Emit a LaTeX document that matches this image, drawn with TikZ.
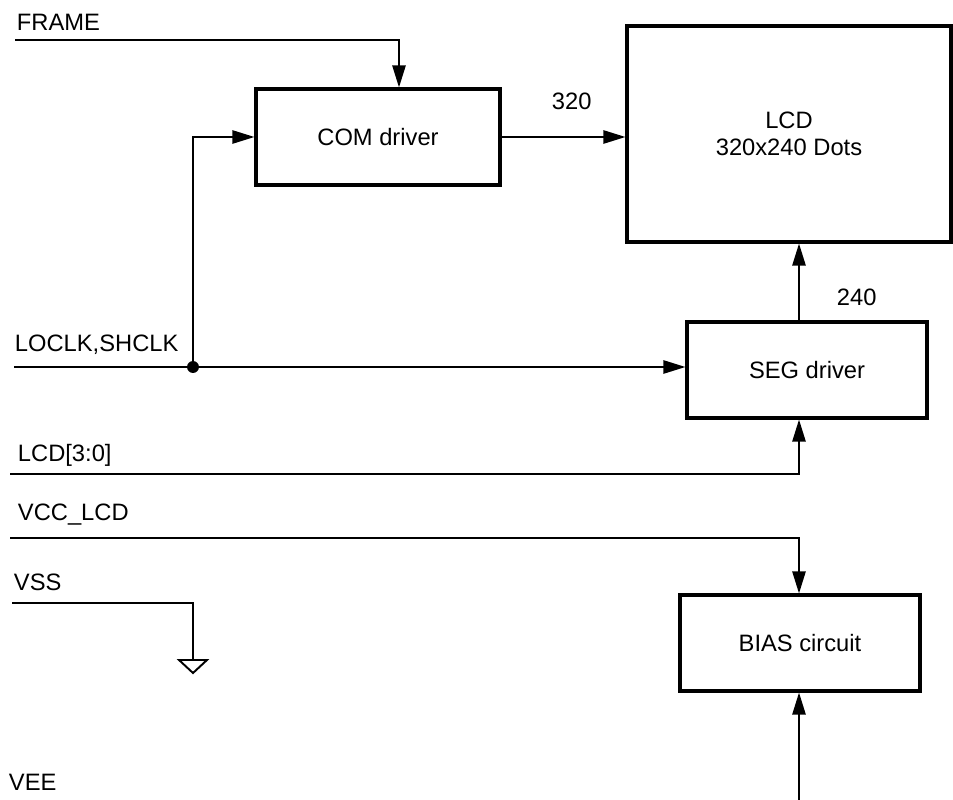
\documentclass[tikz,border=0pt]{standalone}
\usepackage{fontspec}
\setmainfont{Liberation Sans}
\usetikzlibrary{arrows.meta, positioning}

\begin{document}
\begin{tikzpicture}[
    x=0.02cm, y=-0.02cm,
    >={Triangle[length=12.5pt, width=7.5pt]},
    line width=1.1pt,
    font=\fontsize{13.5}{15}\selectfont,
    blockbox/.style={draw, line width=1.8pt, align=center, inner sep=0pt,
                     minimum width=4.8cm, minimum height=1.92cm},
    siglabel/.style={anchor=base west, inner sep=0pt}
  ]
  \useasboundingbox (0,0) rectangle (953,800);

  % Blocks
  \node[blockbox, minimum width=4.88cm] (com) at (378,137) {COM driver};
  \node[blockbox, minimum width=6.48cm, minimum height=4.32cm] (lcd) at (789,134)
    {LCD\\320x240 Dots};
  \node[blockbox] (seg) at (807,370) {SEG driver};
  \node[blockbox] (bias) at (800,643) {BIAS circuit};

  % Signal names
  \node[siglabel] (frameLbl) at (16,31) {FRAME};
  \node[siglabel] (clkLbl) at (14,352) {LOCLK,SHCLK};
  \node[siglabel] (lcdLbl) at (17,461) {LCD[3:0]};
  \node[siglabel] (vccLbl) at (17,520) {VCC\_LCD};
  \node[siglabel] (vssLbl) at (13,590) {VSS};
  \node[siglabel] (veeLbl) at (8,790) {VEE};

  % Bus widths
  \node[siglabel] (comBus) at (551,110) {320};
  \node[siglabel] (segBus) at (836,306) {240};

  % Line ends
  \coordinate (busX) at (799,0);
  \coordinate (frameIn) at (15,40);
  \coordinate (clkIn) at (14,367);
  \coordinate (clkDot) at (193,367);
  \coordinate (lcdIn) at (10,474);
  \coordinate (vccIn) at (10,538);
  \coordinate (vssIn) at (12,603);
  \coordinate (gnd) at (193,660);
  \coordinate (veeIn) at (799,800);

  % Connections
  \draw[->] (frameIn) -| ([xshift=0.42cm]com.north);
  \draw[->] (clkIn) -- (clkIn -| seg.west);
  \draw[->] (clkDot) |- (com.west);
  \fill (clkDot) circle (3.4pt);
  \draw[->] (com.east) -- (com.east -| lcd.west);
  \draw[->] (seg.north -| busX) -- (lcd.south -| busX);
  \draw[->] (lcdIn) -| (seg.south -| busX);
  \draw[->] (vccIn) -| (bias.north -| busX);
  \draw[->] (veeIn) -- (bias.south -| busX);
  \draw (vssIn) -| (gnd);
  \draw (gnd) ++(-14,0) -- ++(28,0) -- ++(-14,13) -- cycle;
\end{tikzpicture}
\end{document}
